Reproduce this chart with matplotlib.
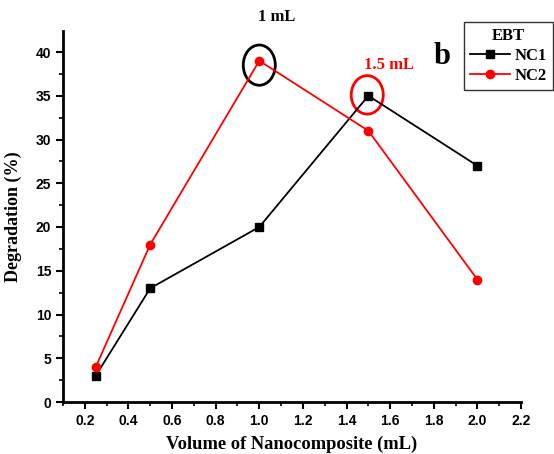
import matplotlib.pyplot as plt
from matplotlib.patches import Ellipse
from matplotlib.ticker import MultipleLocator

volume = [0.25, 0.5, 1.0, 1.5, 2.0]
nc1 = [3, 13, 20, 35, 27]
nc2 = [4, 18, 39, 31, 14]

serif = 'Liberation Serif'
sans = 'Liberation Sans'

fig = plt.figure(figsize=(5.54, 4.54), dpi=100)
ax = fig.add_axes([63 / 554, 52 / 454, 458 / 554, 371 / 454])

l1, = ax.plot(volume, nc1, color='black', marker='s', markersize=6, lw=1.3, label='NC1')
l2, = ax.plot(volume, nc2, color='red', marker='o', markersize=6, lw=1.3, label='NC2')

# highlight circles
ax.add_patch(Ellipse((1.0, 38.5), 0.147, 4.6, fill=False, ec='black', lw=2, clip_on=False))
ax.add_patch(Ellipse((1.495, 35.1), 0.147, 4.4, fill=False, ec='red', lw=2, clip_on=False))

ax.set_xlim(0.1, 2.2)
ax.set_ylim(0, 42.4)
ax.xaxis.set_major_locator(MultipleLocator(0.2))
ax.xaxis.set_minor_locator(MultipleLocator(0.1))
ax.yaxis.set_major_locator(MultipleLocator(5))
ax.yaxis.set_minor_locator(MultipleLocator(2.5))
ax.spines['top'].set_visible(False)
ax.spines['right'].set_visible(False)
ax.spines['left'].set_linewidth(2)
ax.spines['bottom'].set_linewidth(2)
ax.tick_params(which='major', length=5, width=1.5, direction='out')
ax.tick_params(which='minor', length=3, width=1.2, direction='out')
for lab in ax.get_xticklabels() + ax.get_yticklabels():
    lab.set_fontfamily(sans)
    lab.set_fontweight('bold')
    lab.set_fontsize(10)

ax.set_xlabel('Volume of Nanocomposite (mL)', fontfamily=serif, fontweight='bold', fontsize=13.3, labelpad=6)
ax.set_ylabel('Degradation (%)', fontfamily=serif, fontweight='bold', fontsize=13, labelpad=10)

fig.text(277 / 554, 1 - 17 / 454, '1 mL', fontfamily=serif, fontweight='bold', fontsize=12,
         ha='center', va='center')
fig.text(389 / 554, 1 - 65 / 454, '1.5 mL', fontfamily=serif, fontweight='bold', fontsize=12,
         color='red', ha='center', va='center')
fig.text(442 / 554, 1 - 57 / 454, 'b', fontfamily=serif, fontweight='bold', fontsize=22,
         ha='center', va='center')

leg = fig.legend(handles=[l1, l2], title='EBT', loc='upper right',
                 bbox_to_anchor=(553 / 554, 1 - 22 / 454), frameon=True, fancybox=False,
                 prop={'family': serif, 'weight': 'bold', 'size': 12},
                 title_fontproperties={'family': serif, 'weight': 'bold', 'size': 12},
                 handlelength=2.4, handletextpad=0.3, borderpad=0.35, labelspacing=0.25,
                 borderaxespad=0)
leg.get_frame().set_edgecolor('black')
leg.get_frame().set_linewidth(1)

fig.savefig('out.png', dpi=100)
